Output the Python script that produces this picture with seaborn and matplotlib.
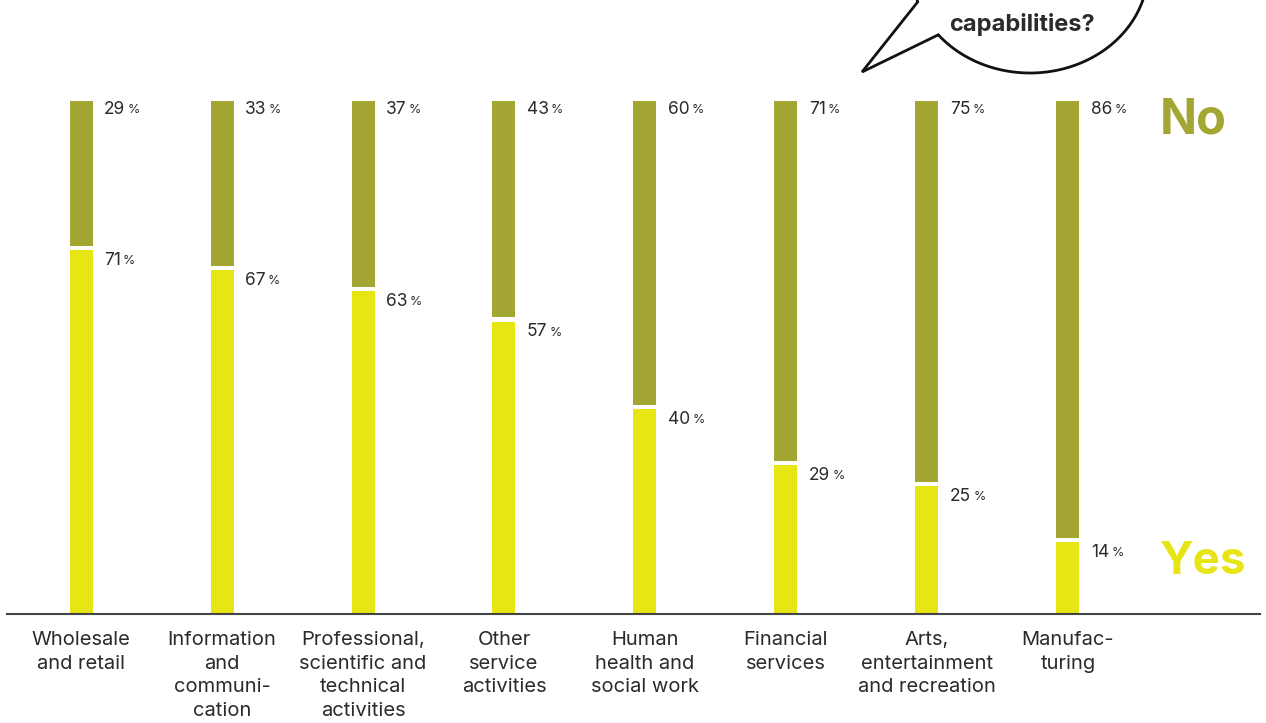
import numpy as np
import pandas as pd
import matplotlib
matplotlib.use("Agg")
import matplotlib.pyplot as plt
from matplotlib.path import Path
from matplotlib.patches import PathPatch
import seaborn as sns

categories = ["Wholesale\nand retail", "Information\nand\ncommuni-\ncation",
              "Professional,\nscientific and\ntechnical\nactivities", "Other\nservice\nactivities",
              "Human\nhealth and\nsocial work", "Financial\nservices",
              "Arts,\nentertainment\nand recreation", "Manufac-\nturing"]
yes_values = [71, 67, 63, 57, 40, 29, 25, 14]
no_values = [29, 33, 37, 43, 60, 71, 75, 86]
question_text = "capabilities?"

OLIVE = "#A3A633"
YELLOW = "#E8E514"
TEXT = "#2b2b2b"

sns.set_theme(style="white")
plt.rcParams['font.family'] = ['Inter', 'DejaVu Sans']

W, H = 1266, 723
fig = plt.figure(figsize=(W / 100, H / 100), dpi=100)
ax = fig.add_axes([7 / W, (H - 614) / H, 1253 / W, 513 / H])

df = pd.DataFrame({"cat": categories, "yes": yes_values, "no": no_values})
df["total"] = df["yes"] + df["no"]
df["gap"] = df["yes"] + 0.8

bw = 23 / 141
for col, c in [("total", OLIVE), ("gap", "white"), ("yes", YELLOW)]:
    sns.barplot(data=df, x="cat", y=col, color=c, width=bw, ax=ax, saturation=1,
                order=categories, linewidth=0, edgecolor=c)

ax.set_xlim(-0.525, 8.362)
ax.set_ylim(0, 100)
ax.set_xlabel("")
ax.set_ylabel("")
ax.set_yticks([])
for s in ["top", "right", "left"]:
    ax.spines[s].set_visible(False)
ax.spines["bottom"].set_color("#444444")
ax.spines["bottom"].set_linewidth(1.5)
ax.tick_params(axis="x", length=0, pad=12)
ax.set_xticks(range(len(categories)))
ax.set_xticklabels(categories, fontsize=14.5, color=TEXT, linespacing=1.42, va="top")

for i, (y, n) in enumerate(zip(yes_values, no_values)):
    tx = i + 0.163
    ty_no = y + n - 1.7
    t = ax.text(tx, ty_no, f"{n}", fontsize=12.5, color=TEXT, va="center", ha="left")
    ax.annotate("%", xy=(1, 0.5), xycoords=t, xytext=(1.5, -0.5), textcoords="offset points",
                fontsize=9, color=TEXT, va="center", ha="left")
    ty_yes = y - 2.0
    t2 = ax.text(tx, ty_yes, f"{y}", fontsize=12.5, color=TEXT, va="center", ha="left")
    ax.annotate("%", xy=(1, 0.5), xycoords=t2, xytext=(1.5, -0.5), textcoords="offset points",
                fontsize=9, color=TEXT, va="center", ha="left")

fig.text(1160 / W, 1 - 120 / H, "No", fontsize=35, fontweight="bold", color=OLIVE, ha="left", va="center")
fig.text(1160 / W, 1 - 562 / H, "Yes", fontsize=33, fontweight="bold", color=YELLOW, ha="left", va="center")

# speech bubble (pixel coordinates converted to figure fraction)
cx, cy, a, b = 1030, -30, 118, 103
th = np.radians(np.linspace(141, 162 - 360, 300))
xs = cx + a * np.cos(th)
ys = cy + b * np.sin(th)
pts = list(zip(xs, ys)) + [(862, 72), (xs[0], ys[0])]
pts = [(px / W, 1 - py / H) for px, py in pts]
codes = [Path.MOVETO] + [Path.LINETO] * (len(pts) - 2) + [Path.CLOSEPOLY]
bubble = PathPatch(Path(pts, codes), facecolor="white", edgecolor="#111111", lw=2,
                   transform=fig.transFigure, joinstyle="miter")
fig.add_artist(bubble)
fig.text(1022 / W, 1 - 24 / H, question_text, fontsize=17, fontweight="bold", color=TEXT,
         ha="center", va="center")

fig.savefig("out.png", dpi=100)
